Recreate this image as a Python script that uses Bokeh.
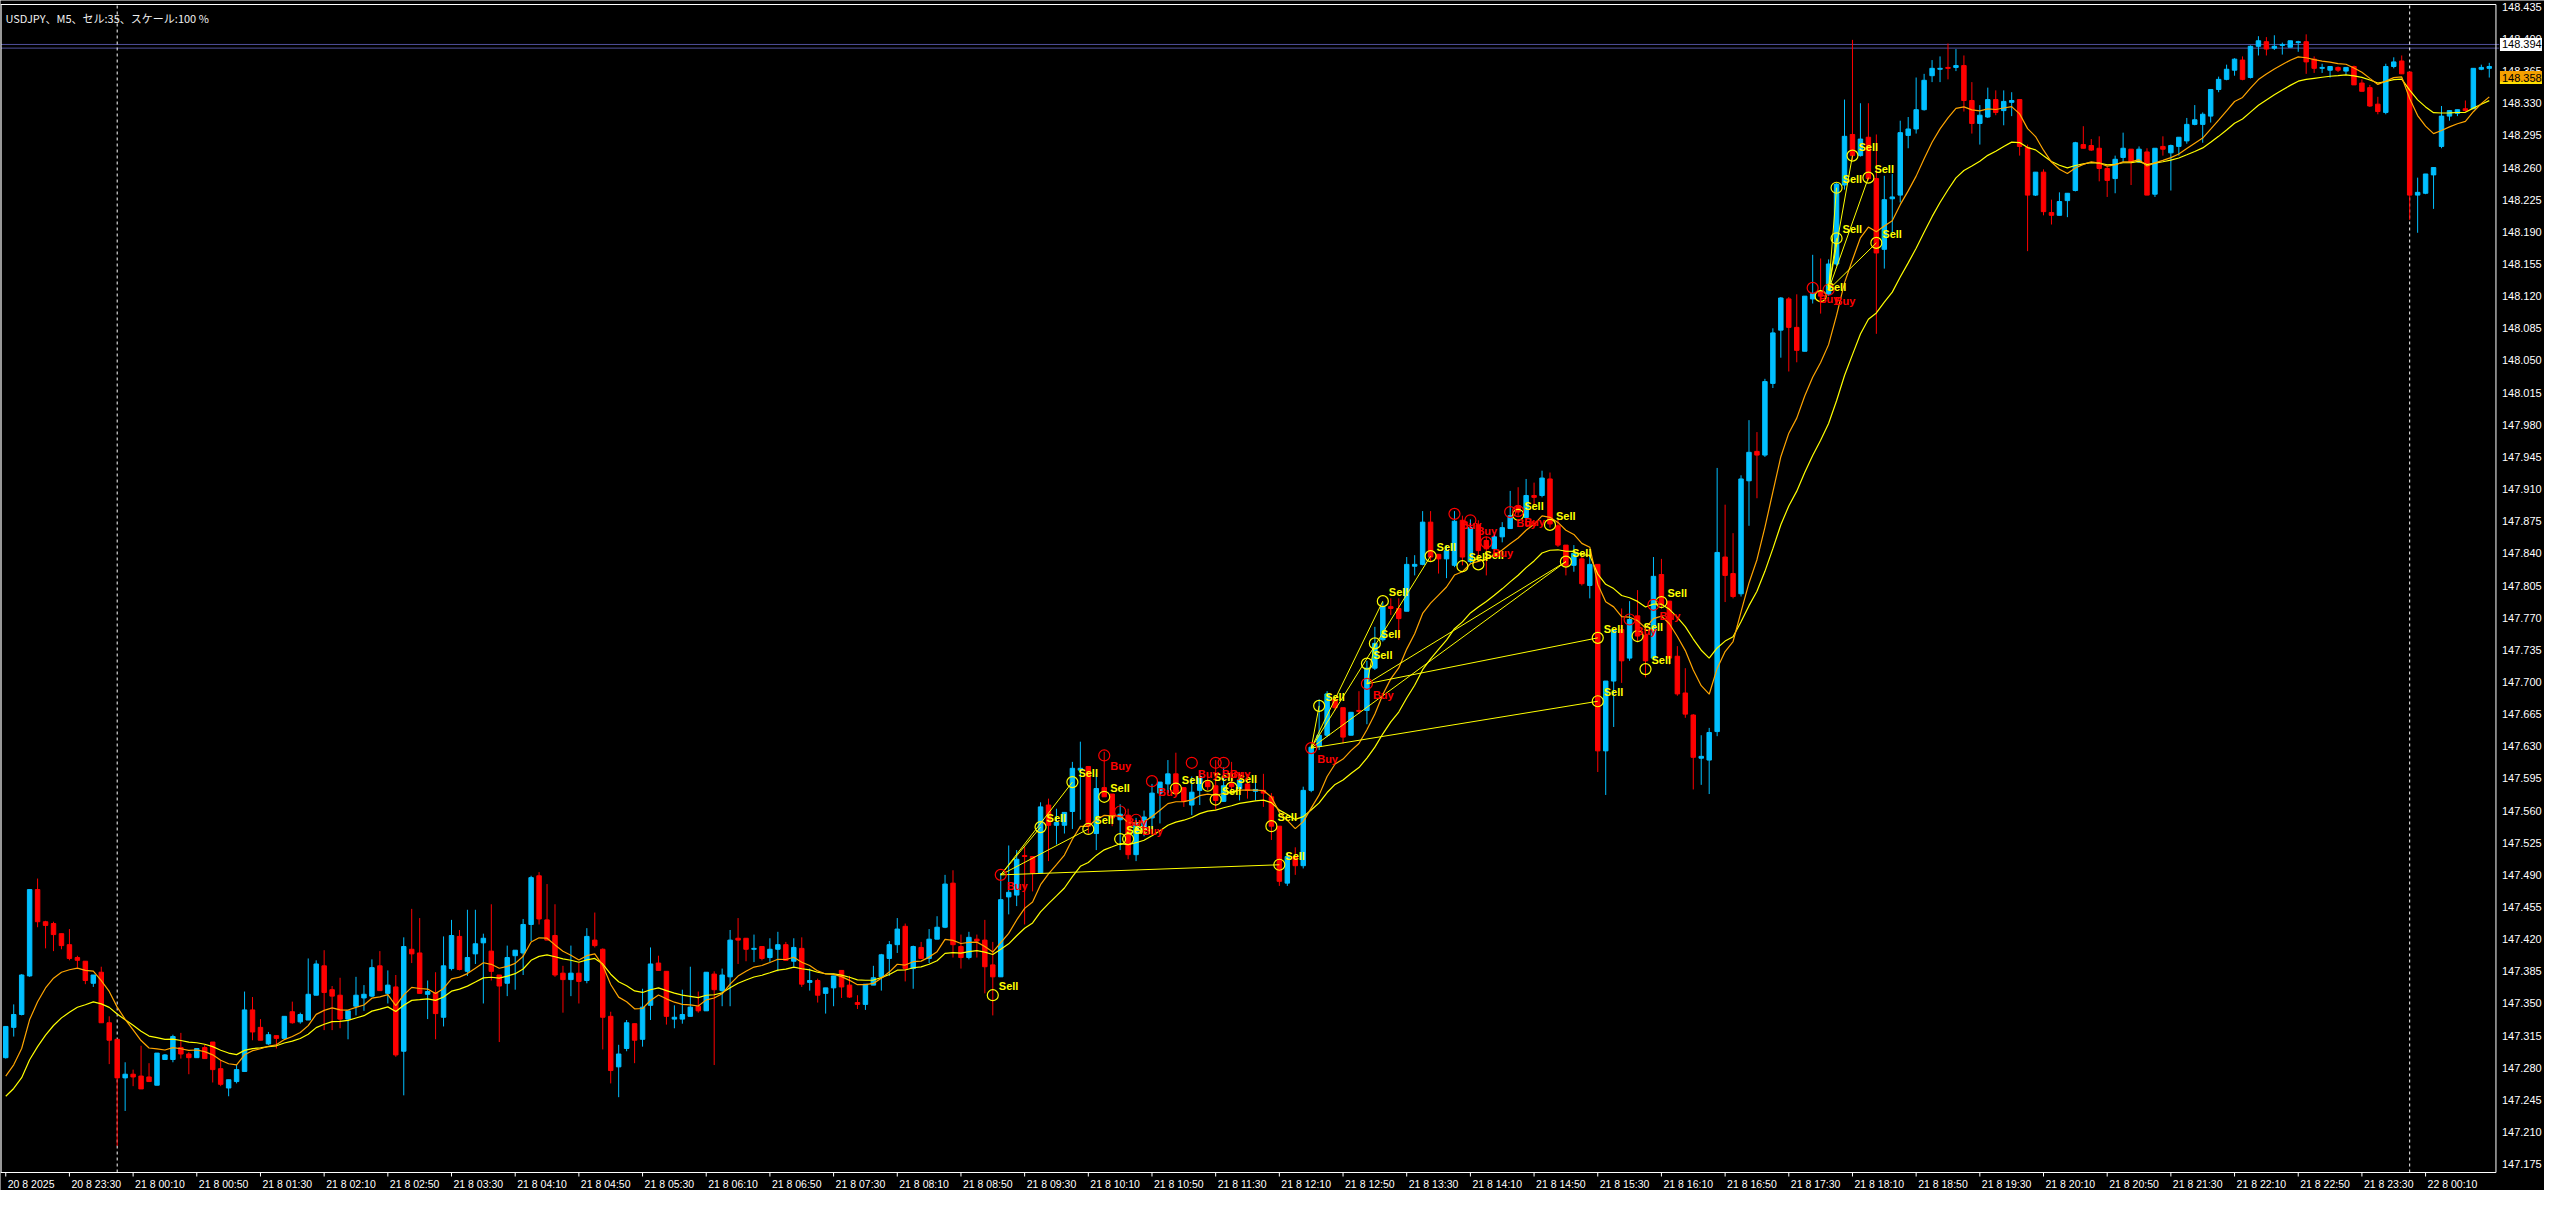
from bokeh.plotting import figure
from bokeh.models import Label, ColumnDataSource
from bokeh.core.properties import value
from bokeh.embed import file_html
from bokeh.resources import INLINE

# ---------------- data (USDJPY M5, first bar 20 8 2025 22:50) ----------------
opens = [
    147.291, 147.324, 147.338, 147.380, 147.474, 147.439, 147.437, 147.426, 147.414, 147.400,
    147.396, 147.372, 147.384, 147.329, 147.311, 147.269, 147.273, 147.271, 147.270, 147.261,
    147.289, 147.289, 147.302, 147.295, 147.291, 147.302, 147.308, 147.279, 147.258, 147.265,
    147.276, 147.343, 147.324, 147.306, 147.315, 147.312, 147.341, 147.330, 147.332, 147.359,
    147.391, 147.365, 147.359, 147.333, 147.347, 147.356, 147.358, 147.391, 147.361, 147.368,
    147.298, 147.409, 147.405, 147.360, 147.362, 147.335, 147.388, 147.423, 147.385, 147.404,
    147.416, 147.407, 147.381, 147.372, 147.402, 147.405, 147.436, 147.489, 147.441, 147.424,
    147.383, 147.376, 147.383, 147.375, 147.419, 147.409, 147.336, 147.281, 147.301, 147.328,
    147.311, 147.348, 147.394, 147.385, 147.333, 147.333, 147.336, 147.347, 147.342, 147.382,
    147.364, 147.379, 147.421, 147.421, 147.409, 147.412, 147.400, 147.409, 147.414, 147.396,
    147.410, 147.373, 147.375, 147.361, 147.367, 147.386, 147.370, 147.351, 147.349, 147.370,
    147.379, 147.399, 147.414, 147.434, 147.388, 147.411, 147.399, 147.420, 147.433, 147.481,
    147.412, 147.400, 147.420, 147.419, 147.392, 147.379, 147.466, 147.468, 147.511, 147.510,
    147.492, 147.566, 147.544, 147.544, 147.559, 147.604, 147.608, 147.535, 147.585, 147.578,
    147.550, 147.555, 147.512, 147.539, 147.552, 147.579, 147.589, 147.600, 147.585, 147.566,
    147.582, 147.592, 147.587, 147.570, 147.590, 147.584, 147.589, 147.581, 147.582, 147.575,
    147.543, 147.481, 147.510, 147.500, 147.582, 147.630, 147.642, 147.681, 147.672, 147.642,
    147.669, 147.669, 147.715, 147.746, 147.782, 147.780, 147.777, 147.826, 147.828, 147.874,
    147.839, 147.834, 147.827, 147.876, 147.831, 147.871, 147.854, 147.845, 147.858, 147.867,
    147.892, 147.879, 147.903, 147.903, 147.921, 147.870, 147.849, 147.827, 147.834, 147.805,
    147.828, 147.625, 147.701, 147.757, 147.726, 147.772, 147.751, 147.726, 147.817, 147.788,
    147.728, 147.688, 147.664, 147.617, 147.615, 147.646, 147.836, 147.818, 147.796, 147.919,
    147.951, 147.947, 148.025, 148.083, 148.117, 148.086, 148.060, 148.117, 148.125, 148.122,
    148.155, 148.241, 148.296, 148.273, 148.293, 148.248, 148.171, 148.226, 148.230, 148.295,
    148.302, 148.323, 148.360, 148.367, 148.369, 148.369, 148.371, 148.333, 148.308, 148.315,
    148.334, 148.322, 148.331, 148.334, 148.282, 148.230, 148.255, 148.211, 148.208, 148.224,
    148.235, 148.285, 148.284, 148.281, 148.259, 148.248, 148.271, 148.280, 148.266, 148.277,
    148.231, 148.283, 148.276, 148.283, 148.289, 148.307, 148.307, 148.316, 148.345, 148.356,
    148.366, 148.377, 148.358, 148.392, 148.397, 148.390, 148.393, 148.391, 148.396, 148.397,
    148.378, 148.368, 148.366, 148.369, 148.365, 148.370, 148.352, 148.347, 148.329, 148.320,
    148.370, 148.376, 148.364, 148.230, 148.232, 148.252, 148.283, 148.316, 148.319, 148.324,
    148.324, 148.367, 148.368,
]
highs = [
    147.325, 147.349, 147.382, 147.474, 147.486, 147.440, 147.439, 147.426, 147.431, 147.402,
    147.396, 147.381, 147.390, 147.336, 147.311, 147.286, 147.278, 147.304, 147.285, 147.296,
    147.295, 147.316, 147.318, 147.297, 147.301, 147.305, 147.308, 147.288, 147.267, 147.283,
    147.363, 147.357, 147.333, 147.319, 147.315, 147.336, 147.352, 147.340, 147.399, 147.397,
    147.408, 147.369, 147.378, 147.342, 147.379, 147.370, 147.398, 147.407, 147.386, 147.381,
    147.422, 147.453, 147.443, 147.375, 147.384, 147.423, 147.441, 147.430, 147.452, 147.452,
    147.426, 147.458, 147.381, 147.413, 147.408, 147.442, 147.489, 147.493, 147.480, 147.458,
    147.391, 147.413, 147.394, 147.432, 147.449, 147.410, 147.341, 147.305, 147.332, 147.328,
    147.366, 147.411, 147.402, 147.385, 147.348, 147.365, 147.390, 147.363, 147.384, 147.385,
    147.388, 147.430, 147.443, 147.421, 147.425, 147.412, 147.421, 147.428, 147.417, 147.421,
    147.422, 147.388, 147.377, 147.367, 147.380, 147.386, 147.380, 147.359, 147.371, 147.391,
    147.404, 147.418, 147.443, 147.437, 147.413, 147.417, 147.431, 147.445, 147.490, 147.495,
    147.425, 147.428, 147.425, 147.441, 147.417, 147.492, 147.522, 147.517, 147.521, 147.510,
    147.569, 147.573, 147.562, 147.558, 147.613, 147.635, 147.608, 147.600, 147.624, 147.578,
    147.567, 147.562, 147.552, 147.560, 147.589, 147.591, 147.615, 147.623, 147.585, 147.597,
    147.604, 147.600, 147.615, 147.607, 147.613, 147.600, 147.600, 147.597, 147.600, 147.579,
    147.543, 147.514, 147.520, 147.586, 147.631, 147.681, 147.690, 147.684, 147.672, 147.667,
    147.690, 147.723, 147.760, 147.787, 147.791, 147.791, 147.836, 147.838, 147.886, 147.886,
    147.839, 147.849, 147.886, 147.881, 147.877, 147.876, 147.858, 147.863, 147.874, 147.908,
    147.912, 147.921, 147.917, 147.930, 147.928, 147.877, 147.849, 147.849, 147.838, 147.838,
    147.828, 147.701, 147.757, 147.780, 147.788, 147.800, 147.759, 147.836, 147.834, 147.788,
    147.739, 147.715, 147.665, 147.642, 147.650, 147.933, 147.893, 147.862, 147.925, 147.985,
    147.972, 148.030, 148.085, 148.119, 148.119, 148.122, 148.120, 148.165, 148.161, 148.160,
    148.243, 148.334, 148.399, 148.330, 148.330, 148.296, 148.251, 148.253, 148.311, 148.315,
    148.358, 148.362, 148.377, 148.381, 148.395, 148.389, 148.382, 148.353, 148.328, 148.347,
    148.344, 148.344, 148.342, 148.334, 148.285, 148.255, 148.258, 148.225, 148.233, 148.232,
    148.288, 148.305, 148.291, 148.294, 148.261, 148.273, 148.298, 148.280, 148.283, 148.281,
    148.281, 148.294, 148.285, 148.293, 148.314, 148.328, 148.320, 148.345, 148.359, 148.372,
    148.379, 148.381, 148.393, 148.403, 148.402, 148.404, 148.396, 148.398, 148.398, 148.405,
    148.381, 148.373, 148.370, 148.370, 148.369, 148.371, 148.356, 148.350, 148.337, 148.373,
    148.380, 148.382, 148.364, 148.249, 148.253, 148.260, 148.327, 148.322, 148.323, 148.333,
    148.368, 148.372, 148.374,
]
lows = [
    147.290, 147.314, 147.337, 147.379, 147.433, 147.410, 147.407, 147.409, 147.397, 147.389,
    147.371, 147.368, 147.329, 147.284, 147.195, 147.233, 147.260, 147.257, 147.265, 147.261,
    147.289, 147.286, 147.290, 147.273, 147.291, 147.290, 147.264, 147.260, 147.249, 147.263,
    147.276, 147.310, 147.310, 147.305, 147.301, 147.312, 147.328, 147.328, 147.332, 147.359,
    147.321, 147.321, 147.323, 147.311, 147.337, 147.342, 147.357, 147.364, 147.350, 147.292,
    147.250, 147.394, 147.361, 147.333, 147.311, 147.325, 147.386, 147.386, 147.380, 147.393,
    147.350, 147.375, 147.308, 147.358, 147.365, 147.381, 147.418, 147.436, 147.419, 147.379,
    147.340, 147.358, 147.350, 147.372, 147.411, 147.300, 147.263, 147.248, 147.298, 147.285,
    147.303, 147.332, 147.386, 147.327, 147.323, 147.328, 147.336, 147.340, 147.342, 147.283,
    147.347, 147.347, 147.393, 147.396, 147.395, 147.397, 147.395, 147.385, 147.397, 147.390,
    147.368, 147.364, 147.351, 147.339, 147.347, 147.356, 147.356, 147.344, 147.343, 147.370,
    147.364, 147.380, 147.405, 147.374, 147.366, 147.399, 147.394, 147.420, 147.432, 147.400,
    147.388, 147.398, 147.400, 147.361, 147.337, 147.379, 147.447, 147.456, 147.436, 147.472,
    147.492, 147.505, 147.523, 147.535, 147.540, 147.550, 147.535, 147.517, 147.575, 147.543,
    147.517, 147.507, 147.505, 147.532, 147.539, 147.546, 147.579, 147.579, 147.564, 147.555,
    147.566, 147.582, 147.561, 147.570, 147.579, 147.571, 147.573, 147.571, 147.564, 147.528,
    147.478, 147.478, 147.490, 147.497, 147.580, 147.626, 147.640, 147.669, 147.633, 147.642,
    147.665, 147.654, 147.713, 147.744, 147.773, 147.746, 147.777, 147.816, 147.827, 147.831,
    147.818, 147.813, 147.825, 147.827, 147.829, 147.836, 147.816, 147.844, 147.852, 147.867,
    147.881, 147.877, 147.892, 147.901, 147.868, 147.847, 147.816, 147.820, 147.805, 147.791,
    147.602, 147.577, 147.651, 147.699, 147.723, 147.744, 147.705, 147.726, 147.780, 147.719,
    147.685, 147.661, 147.583, 147.588, 147.578, 147.641, 147.787, 147.791, 147.793, 147.870,
    147.900, 147.945, 148.020, 148.053, 148.038, 148.048, 148.060, 148.112, 148.101, 148.120,
    148.153, 148.236, 148.268, 148.272, 148.246, 148.079, 148.150, 148.189, 148.222, 148.281,
    148.297, 148.322, 148.353, 148.353, 148.356, 148.365, 148.321, 148.297, 148.285, 148.314,
    148.317, 148.306, 148.316, 148.273, 148.169, 148.229, 148.208, 148.198, 148.208, 148.206,
    148.234, 148.281, 148.278, 148.245, 148.228, 148.232, 148.266, 148.241, 148.265, 148.230,
    148.228, 148.273, 148.235, 148.273, 148.286, 148.306, 148.287, 148.309, 148.342, 148.355,
    148.360, 148.355, 148.357, 148.382, 148.382, 148.388, 148.383, 148.391, 148.386, 148.362,
    148.363, 148.363, 148.358, 148.364, 148.361, 148.350, 148.343, 148.326, 148.318, 148.318,
    148.368, 148.362, 148.203, 148.189, 148.231, 148.215, 148.281, 148.311, 148.316, 148.321,
    148.324, 148.366, 148.358,
]
closes = [
    147.325, 147.338, 147.381, 147.474, 147.439, 147.435, 147.425, 147.413, 147.399, 147.397,
    147.375, 147.381, 147.329, 147.310, 147.269, 147.273, 147.270, 147.257, 147.265, 147.296,
    147.294, 147.314, 147.295, 147.291, 147.301, 147.290, 147.278, 147.262, 147.267, 147.278,
    147.343, 147.319, 147.310, 147.316, 147.312, 147.336, 147.329, 147.338, 147.360, 147.393,
    147.362, 147.358, 147.333, 147.342, 147.359, 147.360, 147.389, 147.364, 147.370, 147.294,
    147.412, 147.404, 147.361, 147.363, 147.339, 147.391, 147.424, 147.387, 147.400, 147.415,
    147.421, 147.385, 147.369, 147.400, 147.408, 147.436, 147.487, 147.442, 147.419, 147.381,
    147.376, 147.383, 147.374, 147.423, 147.413, 147.335, 147.277, 147.295, 147.329, 147.310,
    147.346, 147.393, 147.386, 147.336, 147.335, 147.338, 147.346, 147.342, 147.384, 147.365,
    147.381, 147.419, 147.419, 147.409, 147.410, 147.399, 147.409, 147.414, 147.397, 147.411,
    147.371, 147.375, 147.359, 147.367, 147.380, 147.368, 147.357, 147.349, 147.371, 147.378,
    147.403, 147.414, 147.431, 147.388, 147.412, 147.399, 147.420, 147.433, 147.480, 147.414,
    147.400, 147.422, 147.418, 147.390, 147.379, 147.463, 147.471, 147.507, 147.510, 147.492,
    147.564, 147.544, 147.547, 147.558, 147.606, 147.606, 147.543, 147.584, 147.575, 147.552,
    147.556, 147.512, 147.546, 147.553, 147.579, 147.591, 147.600, 147.579, 147.570, 147.580,
    147.597, 147.586, 147.571, 147.587, 147.586, 147.593, 147.582, 147.583, 147.579, 147.543,
    147.483, 147.510, 147.500, 147.582, 147.629, 147.642, 147.687, 147.672, 147.640, 147.667,
    147.668, 147.715, 147.742, 147.782, 147.780, 147.769, 147.828, 147.828, 147.874, 147.836,
    147.834, 147.843, 147.875, 147.836, 147.868, 147.843, 147.845, 147.858, 147.868, 147.881,
    147.885, 147.903, 147.901, 147.922, 147.872, 147.849, 147.827, 147.840, 147.807, 147.828,
    147.625, 147.701, 147.757, 147.723, 147.768, 147.750, 147.723, 147.815, 147.784, 147.726,
    147.687, 147.665, 147.618, 147.619, 147.645, 147.841, 147.816, 147.793, 147.921, 147.950,
    147.947, 148.027, 148.080, 148.118, 148.086, 148.061, 148.120, 148.123, 148.120, 148.155,
    148.242, 148.294, 148.273, 148.291, 148.248, 148.167, 148.225, 148.228, 148.298, 148.302,
    148.323, 148.355, 148.368, 148.368, 148.368, 148.371, 148.333, 148.308, 148.317, 148.334,
    148.320, 148.332, 148.333, 148.283, 148.230, 148.255, 148.212, 148.208, 148.223, 148.232,
    148.287, 148.281, 148.279, 148.259, 148.246, 148.269, 148.281, 148.266, 148.280, 148.230,
    148.281, 148.280, 148.284, 148.293, 148.307, 148.312, 148.318, 148.345, 148.356, 148.367,
    148.378, 148.356, 148.392, 148.398, 148.389, 148.392, 148.394, 148.398, 148.397, 148.375,
    148.368, 148.369, 148.370, 148.366, 148.369, 148.350, 148.343, 148.327, 148.321, 148.370,
    148.375, 148.362, 148.230, 148.233, 148.253, 148.260, 148.316, 148.322, 148.323, 148.322,
    148.368, 148.369, 148.370,
]

# moving averages (EMA 10 orange, EMA 20 yellow); value read at the first bar
ema_fast_period = 10
ema_slow_period = 20
ema_fast_first = 147.271
ema_slow_first = 147.249

# trade markers of the indicator
buy_idx = [125, 138, 140, 142, 144, 149, 152, 153, 164, 171, 182, 184, 186, 189, 190, 204, 207, 227, 229]
buy_px = [147.490, 147.620, 147.559, 147.550, 147.592, 147.612, 147.612, 147.612, 147.628, 147.698,
          147.883, 147.876, 147.852, 147.885, 147.886, 147.768, 147.784, 148.129, 148.127]
sell_idx = [124, 130, 134, 136, 138, 140, 141, 147, 151, 152, 154, 159, 160, 165, 171, 172, 173, 179,
            183, 185, 190, 194, 196, 200, 200, 205, 206, 208, 228, 230, 230, 232, 234, 235]
sell_px = [147.359, 147.542, 147.591, 147.540, 147.575, 147.529, 147.529, 147.584, 147.587, 147.572,
           147.585, 147.543, 147.501, 147.674, 147.720, 147.742, 147.788, 147.837, 147.826, 147.828,
           147.882, 147.871, 147.831, 147.748, 147.679, 147.750, 147.714, 147.787, 148.120, 148.238,
           148.183, 148.273, 148.249, 148.178]
trade_from_idx = [125, 125, 125, 125, 164, 164, 164, 164, 164, 171, 171, 171, 229, 229, 229, 229, 229]
trade_from_px = [147.490, 147.490, 147.490, 147.490, 147.628, 147.628, 147.628, 147.628, 147.628,
                 147.698, 147.698, 147.698, 148.127, 148.127, 148.127, 148.127, 148.127]
trade_to_idx = [130, 134, 136, 160, 165, 173, 179, 196, 200, 172, 196, 200, 230, 232, 234, 235, 230]
trade_to_px = [147.542, 147.591, 147.540, 147.501, 147.674, 147.788, 147.837, 147.831, 147.679,
               147.742, 147.831, 147.748, 148.238, 148.273, 148.249, 148.178, 148.183]

x_tick_idx = list(range(0, 305, 8))
x_tick_labels = [
    "20 8 2025", "20 8 23:30", "21 8 00:10", "21 8 00:50", "21 8 01:30", "21 8 02:10",
    "21 8 02:50", "21 8 03:30", "21 8 04:10", "21 8 04:50", "21 8 05:30", "21 8 06:10",
    "21 8 06:50", "21 8 07:30", "21 8 08:10", "21 8 08:50", "21 8 09:30", "21 8 10:10",
    "21 8 10:50", "21 8 11:30", "21 8 12:10", "21 8 12:50", "21 8 13:30", "21 8 14:10",
    "21 8 14:50", "21 8 15:30", "21 8 16:10", "21 8 16:50", "21 8 17:30", "21 8 18:10",
    "21 8 18:50", "21 8 19:30", "21 8 20:10", "21 8 20:50", "21 8 21:30", "21 8 22:10",
    "21 8 22:50", "21 8 23:30", "22 8 00:10",
]
y_ticks = [148.435, 148.400, 148.365, 148.330, 148.295, 148.260, 148.225, 148.190, 148.155, 148.120,
           148.085, 148.050, 148.015, 147.980, 147.945, 147.910, 147.875, 147.840, 147.805, 147.770,
           147.735, 147.700, 147.665, 147.630, 147.595, 147.560, 147.525, 147.490, 147.455, 147.420,
           147.385, 147.350, 147.315, 147.280, 147.245, 147.210, 147.175]
y_tick_labels = ["148.435", "148.400", "148.365", "148.330", "148.295", "148.260", "148.225",
                 "148.190", "148.155", "148.120", "148.085", "148.050", "148.015", "147.980",
                 "147.945", "147.910", "147.875", "147.840", "147.805", "147.770", "147.735",
                 "147.700", "147.665", "147.630", "147.595", "147.560", "147.525", "147.490",
                 "147.455", "147.420", "147.385", "147.350", "147.315", "147.280", "147.245",
                 "147.210", "147.175"]
day_separators = [14, 302]
ask_price = 148.394
ask_line2 = 148.390
bid_price = 148.358
title_text = "USDJPY、M5、セル:35、スケール:100 %"

# ---------------- layout / styling ----------------
BULL = "#00BFFF"
BEAR = "#FF0000"
FONT = "Liberation Sans"

W, H = 2544, 1190            # whole figure = frame; scales are drawn by hand
SX = 7.96                    # px per bar
TOP_PAD = 4                  # px above the price pane
CHART_H = 1168               # px of the price pane
X0 = -0.66                   # left edge of the price pane (bar units)
XB = 312.84                  # right edge of the price pane (bar units)
YT = 148.4375                # top edge of the price pane
YB = 147.166                 # bottom edge of the price pane
SY = CHART_H / (YT - YB)
X1 = X0 + W / SX
Y1 = YT + TOP_PAD / SY
Y0 = YB - (H - CHART_H - TOP_PAD) / SY

n = len(closes)
idx = list(range(n))
colors = [BULL if c >= o else BEAR for o, c in zip(opens, closes)]
tops = [max(o, c) for o, c in zip(opens, closes)]
bots = [min(o, c) for o, c in zip(opens, closes)]

a_f = 2.0 / (ema_fast_period + 1)
a_s = 2.0 / (ema_slow_period + 1)
ema_f = [ema_fast_first]
ema_s = [ema_slow_first]
for c in closes[1:]:
    ema_f.append(ema_f[-1] + a_f * (c - ema_f[-1]))
    ema_s.append(ema_s[-1] + a_s * (c - ema_s[-1]))

src = ColumnDataSource(dict(x=idx, o=opens, h=highs, l=lows, c=closes, top=tops, bot=bots, col=colors))

p = figure(width=W, height=H, x_range=(X0, X1), y_range=(Y0, Y1),
           x_axis_location=None, y_axis_location=None,
           output_backend="svg", toolbar_location=None,
           background_fill_color="black", border_fill_color="black",
           min_border=0, min_border_left=0, min_border_right=0, min_border_top=0, min_border_bottom=0)
p.grid.visible = False
p.outline_line_color = None

# price lines and day separators
p.segment(x0=[X0, X0], y0=[ask_price, ask_line2], x1=[XB + 0.4, XB + 0.4], y1=[ask_price, ask_line2],
          line_color="#50509A", line_width=1)
p.segment(x0=day_separators, y0=[YB] * len(day_separators), x1=day_separators, y1=[YT] * len(day_separators),
          line_color="white", line_dash="3 3", line_width=1)

# candles
p.segment(x0="x", y0="l", x1="x", y1="h", color="col", line_width=1, source=src)
p.vbar(x="x", width=0.56, top="top", bottom="bot", fill_color="col", line_color="col", line_width=1, source=src)

# moving averages
p.line(idx, ema_s, line_color="#FFFF00", line_width=1.2)
p.line(idx, ema_f, line_color="#FFA500", line_width=1.2)

# trade lines and markers
p.segment(x0=trade_from_idx, y0=trade_from_px, x1=trade_to_idx, y1=trade_to_px, line_color="#FFFF00", line_width=1)
p.scatter(x=sell_idx, y=sell_px, marker="circle", size=11, fill_alpha=0, line_color="#FFFF00", line_width=1.2)
p.scatter(x=buy_idx, y=buy_px, marker="circle", size=11, fill_alpha=0, line_color="#FF0000", line_width=1.2)
p.text(x=sell_idx, y=sell_px, text=["Sell"] * len(sell_idx), x_offset=6, y_offset=-9,
       text_color="#FFFF00", text_font=value(FONT), text_font_style="bold", text_font_size="11px",
       text_baseline="middle", text_align="left")
p.text(x=buy_idx, y=buy_px, text=["Buy"] * len(buy_idx), x_offset=6, y_offset=11,
       text_color="#FF0000", text_font=value(FONT), text_font_style="bold", text_font_size="11px",
       text_baseline="middle", text_align="left")

# pane border
p.segment(x0=[X0 + 0.6 / SX, X0, X0, XB], y0=[YB, YT, YB, YB],
          x1=[X0 + 0.6 / SX, XB, XB, XB], y1=[YT, YT, YB, YT],
          line_color="white", line_width=1)

# time scale
p.segment(x0=x_tick_idx, y0=[YB] * len(x_tick_idx), x1=x_tick_idx, y1=[YB - 4 / SY] * len(x_tick_idx),
          line_color="white", line_width=1)
p.text(x=x_tick_idx, y=[YB] * len(x_tick_idx), text=x_tick_labels, x_offset=2, y_offset=11,
       text_color="white", text_font=value(FONT), text_font_size="10.5px",
       text_baseline="middle", text_align="left")

# price scale
p.text(x=[XB] * len(y_ticks), y=y_ticks, text=y_tick_labels, x_offset=6, y_offset=0,
       text_color="white", text_font=value(FONT), text_font_size="11px",
       text_baseline="middle", text_align="left")

# price tags
tag_l = XB + 4 / SX
tag_r = XB + 46 / SX
tag_h = 6.5 / SY
p.quad(left=[tag_l, tag_l], right=[tag_r, tag_r], top=[ask_price + tag_h, bid_price + tag_h],
       bottom=[ask_price - tag_h, bid_price - tag_h], fill_color=["white", "#F5A000"], line_color=None)
p.quad(left=[tag_l], right=[tag_r], top=[bid_price - tag_h + 2.5 / SY], bottom=[bid_price - tag_h],
       fill_color="#FFE000", line_color=None)
p.text(x=[XB, XB], y=[ask_price, bid_price], text=[f"{ask_price:.3f}", f"{bid_price:.3f}"],
       x_offset=6, y_offset=0, text_color="black", text_font=value(FONT), text_font_size="11px",
       text_baseline="middle", text_align="left")

# title
p.add_layout(Label(x=X0 + 5 / SX, y=YT - 5 / SY, text=title_text, text_color="#F0F0F0",
                   text_font="Noto Sans CJK JP", text_font_size="11px", text_baseline="top"))

open("out.html", "w").write(file_html(p, INLINE))
